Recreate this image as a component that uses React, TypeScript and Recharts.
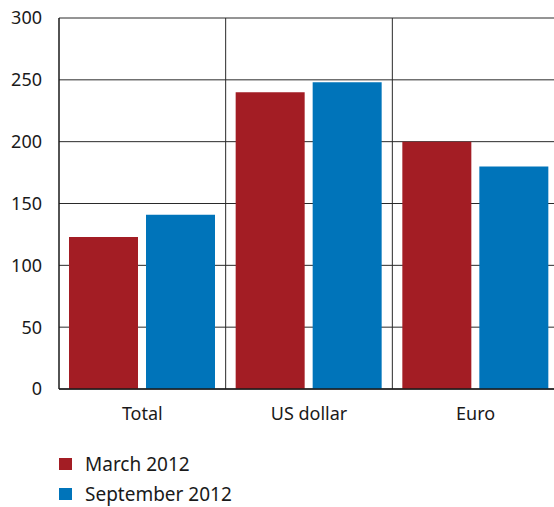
import { BarChart, Bar, XAxis, YAxis, CartesianGrid } from "recharts";

const categories = ["Total", "US dollar", "Euro"];
const march2012 = [123, 240, 200];
const september2012 = [141, 248, 180];
const yTicks = [0, 50, 100, 150, 200, 250, 300];

const data = categories.map((name, i) => ({
  name,
  march: march2012[i],
  september: september2012[i],
}));

const FONT = "'Noto Sans', 'Open Sans', sans-serif";
const RED = "#a31d24";
const BLUE = "#0074ba";

const legendItems = [
  { label: "March 2012", color: RED },
  { label: "September 2012", color: BLUE },
];

function ChartLegend() {
  return (
    <div
      style={{
        position: "absolute",
        left: 59,
        top: 449,
        fontFamily: FONT,
        fontSize: 19,
        color: "#1a1a1a",
      }}
    >
      {legendItems.map((item) => (
        <div
          key={item.label}
          style={{ display: "flex", alignItems: "center", height: 30 }}
        >
          <span
            style={{
              width: 13,
              height: 12,
              background: item.color,
              marginRight: 13,
              display: "inline-block",
            }}
          />
          {item.label}
        </div>
      ))}
    </div>
  );
}

export default function App() {
  return (
    <div style={{ position: "absolute", left: 0, top: 0, width: 554, height: 507, overflow: "hidden" }}>
      <BarChart
        width={559}
        height={507}
        data={data}
        margin={{ top: 18, right: 0, bottom: 78, left: 0 }}
        barCategoryGap={10}
        barGap={8}
      >
        <CartesianGrid
          stroke="#2a2a2a"
          verticalCoordinatesGenerator={({ offset }: any) => [
            offset.left + offset.width / 3,
            offset.left + (2 * offset.width) / 3,
          ]}
        />
        <XAxis
          dataKey="name"
          axisLine={{ stroke: "#1a1a1a", strokeWidth: 1.5 }}
          tickLine={false}
          tickMargin={12}
          height={40}
          tick={{ fill: "#1a1a1a", fontSize: 18, fontFamily: FONT }}
        />
        <YAxis
          width={59}
          domain={[0, 300]}
          ticks={yTicks}
          interval={0}
          axisLine={{ stroke: "#1a1a1a", strokeWidth: 1.5 }}
          tickLine={false}
          tickSize={0}
          tickMargin={17}
          tick={{ fill: "#1a1a1a", fontSize: 18, fontFamily: FONT }}
        />
        <Bar dataKey="march" fill={RED} isAnimationActive={false} />
        <Bar dataKey="september" fill={BLUE} isAnimationActive={false} />
      </BarChart>
      <ChartLegend />
    </div>
  );
}
